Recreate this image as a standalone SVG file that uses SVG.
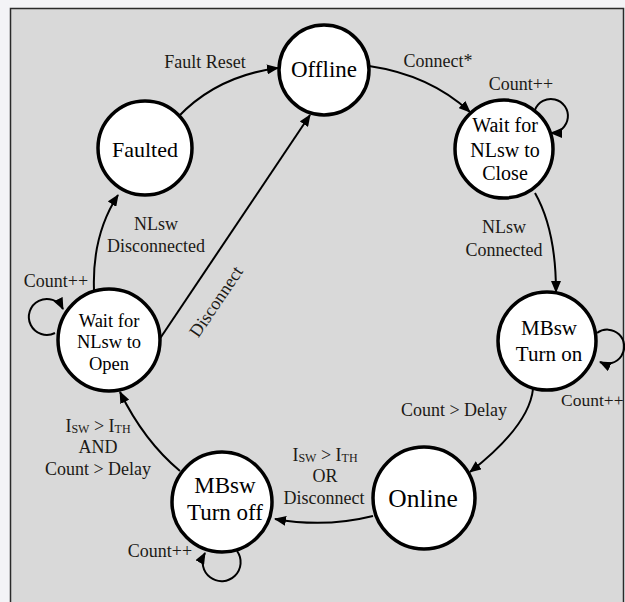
<svg xmlns="http://www.w3.org/2000/svg" width="625" height="602" viewBox="0 0 625 602">
  <defs>
    <marker id="arrow" markerWidth="12" markerHeight="10" refX="11" refY="5" orient="auto" markerUnits="userSpaceOnUse">
      <path d="M0,0 L12,5 L0,10 z" fill="#000"/>
    </marker>
  </defs>
  <style>
    .state circle { fill: #fff; stroke: #000; stroke-width: 3.5; }
    .state text { fill: #000; text-anchor: middle; }
    .edge { fill: none; stroke: #000; stroke-width: 2; marker-end: url(#arrow); }
    .lbl { font-size: 18px; fill: #1c1a16; text-anchor: middle; }
    .sub { font-size: 12px; }
  </style>

  <!-- page and panel -->
  <rect width="625" height="602" fill="#f3f3f6"/>
  <rect x="10.5" y="8.5" width="613" height="600" fill="#d9d9d9" stroke="#2a2a2a" stroke-width="1.5"/>

  <g id="connectors" font-family="'Liberation Serif', 'DejaVu Serif', serif">
    <!-- Faulted -> Offline -->
    <path class="edge" d="M178 117 Q217 76 278 68"/>
    <!-- Wait for NLsw to Open -> Offline -->
    <path class="edge" d="M159 340 L310 115"/>
    <!-- Offline -> Wait for NLsw to Close -->
    <path class="edge" d="M369 66 Q430 75 470 112"/>
    <!-- Wait for NLsw to Close self loop -->
    <path class="edge" d="M535 110 A17 17 0 1 1 551 133"/>
    <!-- Wait for NLsw to Close -> MBsw Turn on -->
    <path class="edge" d="M535 193 Q556 230 556 292"/>
    <!-- MBsw Turn on self loop -->
    <path class="edge" d="M597 333 A17 17 0 1 1 600 362"/>
    <!-- MBsw Turn on -> Online -->
    <path class="edge" d="M533 389 Q529 426 470 472"/>
    <!-- Online -> MBsw Turn off -->
    <path class="edge" d="M373 516 Q325 528 275 519"/>
    <!-- MBsw Turn off self loop -->
    <path class="edge" d="M237 551 A19 19 0 1 1 205 553"/>
    <!-- MBsw Turn off -> Wait for NLsw to Open -->
    <path class="edge" d="M180 471 Q144 441 120 392"/>
    <!-- Wait for NLsw to Open self loop -->
    <path class="edge" d="M55 333 A18 18 0 1 1 63 309"/>
    <!-- Wait for NLsw to Open -> Faulted -->
    <path class="edge" d="M94 290 Q92 235 118 195"/>

    <!-- transition labels -->
    <text class="lbl" x="205" y="68">Fault Reset</text>
    <text class="lbl" x="438" y="67">Connect*</text>
    <text class="lbl" x="521" y="90">Count++</text>
    <text class="lbl" x="504" y="233">NLsw</text>
    <text class="lbl" x="504" y="256">Connected</text>
    <text class="lbl" x="561" y="406" style="text-anchor:start; font-size:17.5px">Count++</text>
    <text class="lbl" x="454" y="416">Count &gt; Delay</text>
    <text class="lbl" x="325" y="461">I<tspan class="sub" dy="1">SW</tspan><tspan dy="-1"> &gt; I</tspan><tspan class="sub" dy="1">TH</tspan></text>
    <text class="lbl" x="325" y="482">OR</text>
    <text class="lbl" x="324" y="504">Disconnect</text>
    <text class="lbl" x="98" y="432">I<tspan class="sub" dy="1">SW</tspan><tspan dy="-1"> &gt; I</tspan><tspan class="sub" dy="1">TH</tspan></text>
    <text class="lbl" x="98" y="453">AND</text>
    <text class="lbl" x="98" y="475">Count &gt; Delay</text>
    <text class="lbl" x="160" y="557">Count++</text>
    <text class="lbl" x="56" y="287">Count++</text>
    <text class="lbl" x="156" y="230">NLsw</text>
    <text class="lbl" x="156" y="252">Disconnected</text>
    <text class="lbl" transform="translate(221,305) rotate(-56)">Disconnect</text>
  </g>

  <g id="states" font-family="'Liberation Serif', 'DejaVu Serif', serif">
    <g id="offline" class="state">
      <circle cx="324" cy="70" r="45"/>
      <text x="324" y="77" font-size="23">Offline</text>
    </g>
    <g id="faulted" class="state">
      <circle cx="145" cy="148" r="47"/>
      <text x="145" y="157" font-size="22">Faulted</text>
    </g>
    <g id="wait-close" class="state">
      <circle cx="504" cy="149" r="49"/>
      <text x="505" y="132" font-size="20">Wait for</text>
      <text x="505" y="157" font-size="20">NLsw to</text>
      <text x="505" y="180" font-size="20">Close</text>
    </g>
    <g id="mbsw-on" class="state">
      <circle cx="547" cy="341" r="49"/>
      <text x="549" y="335" font-size="21">MBsw</text>
      <text x="549" y="361" font-size="21">Turn on</text>
    </g>
    <g id="online" class="state">
      <circle cx="424" cy="498" r="51"/>
      <text x="423" y="507" font-size="25.5">Online</text>
    </g>
    <g id="mbsw-off" class="state">
      <circle cx="222" cy="502" r="50"/>
      <text x="225" y="493" font-size="23">MBsw</text>
      <text x="225" y="520" font-size="23">Turn off</text>
    </g>
    <g id="wait-open" class="state">
      <circle cx="109" cy="340" r="51"/>
      <text x="109" y="327" font-size="18.5">Wait for</text>
      <text x="109" y="348" font-size="18.5">NLsw to</text>
      <text x="109" y="370" font-size="18.5">Open</text>
    </g>
  </g>
</svg>
